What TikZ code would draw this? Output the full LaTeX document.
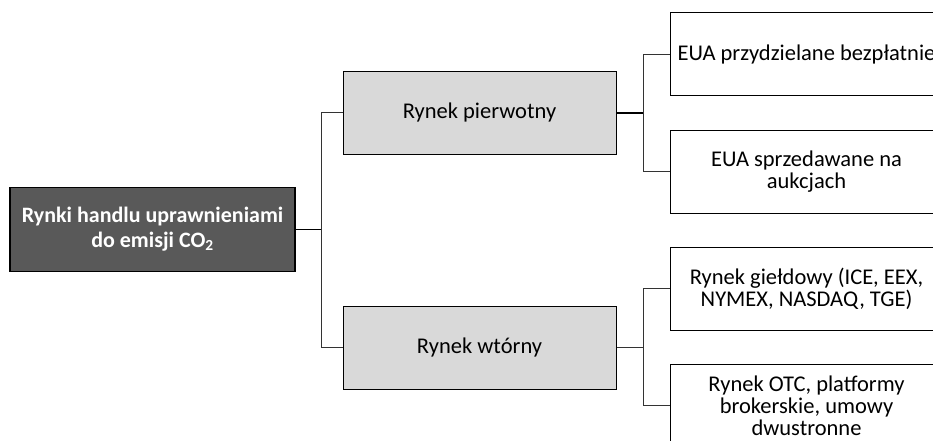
\documentclass[tikz,border=0pt]{standalone}
\usepackage{fontspec}
\setmainfont{Carlito}
\begin{document}
\begin{tikzpicture}[x=1pt,y=-1pt,
  box/.style={draw=black, line width=1pt, minimum width=273pt, minimum height=83pt, inner sep=0pt, align=center, font=\fontsize{22.5}{22}\selectfont},
  graybox/.style={box, fill=gray!30},
  rootbox/.style={draw=black, line width=1.2pt, fill=black!65, minimum width=285pt, minimum height=84pt, inner sep=0pt, align=center, text=white, font=\fontsize{22}{25}\selectfont\bfseries},
  conn/.style={draw=black!80, line width=1pt},
  rootconn/.style={draw=black, line width=1.5pt}]
\clip (0,0) rectangle (933,441);
\fill[white] (0,0) rectangle (933,441);
\node[rootbox] (root) at (152.5,229.5) {Rynki handlu uprawnieniami\\do emisji CO\textsubscript{2}};
\node[graybox] (pier) at (479.5,113) {Rynek pierwotny};
\node[graybox] (wtor) at (479.5,347.5) {Rynek wtórny};
\node[box] (e1) at (806.5,54.5) {EUA przydzielane bezpłatnie};
\node[box] (e2) at (806.5,171.5) {EUA sprzedawane na\\aukcjach};
\node[box] (r1) at (806.5,288.5) {Rynek giełdowy (ICE, EEX,\\NYMEX, NASDAQ, TGE)};
\node[box] (r2) at (806.5,405.5) {Rynek OTC, platformy\\brokerskie, umowy\\dwustronne};
\coordinate (j0) at (321,229.5);
\coordinate (j1) at (643,113);
\coordinate (j2) at (643,347.5);
\draw[rootconn] (root.east) -- (j0);
\draw[conn] (pier.west) -- (pier.west -| j0) -- (wtor.west -| j0) -- (wtor.west);
\draw[rootconn] (pier.east) -- (j1);
\draw[conn] (e1.west) -- (e1.west -| j1) -- (e2.west -| j1) -- (e2.west);
\draw[conn] (wtor.east) -- (j2);
\draw[conn] (r1.west) -- (r1.west -| j2) -- (r2.west -| j2) -- (r2.west);
\end{tikzpicture}
\end{document}
